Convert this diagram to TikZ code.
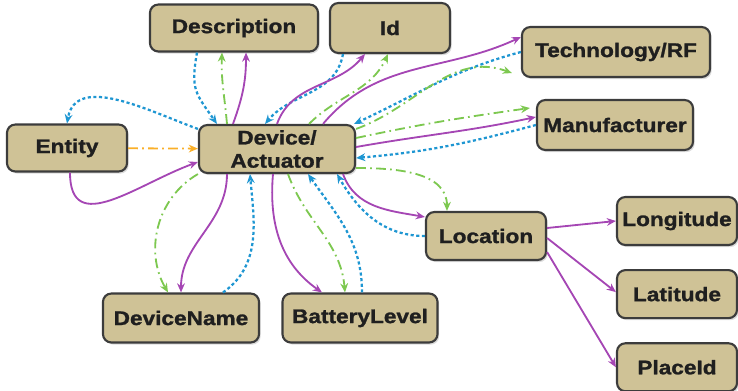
\documentclass[tikz,border=0pt]{standalone}
\usepackage{fontspec}
\newfontfamily\boxfont{Liberation Sans}[FakeStretch=1.15, BoldFeatures={FakeBold=1.3}]
\definecolor{BoxTan}{RGB}{207,194,150}
\definecolor{BoxEdge}{RGB}{60,60,60}
\definecolor{LinkPurple}{RGB}{165,70,180}
\definecolor{LinkBlue}{RGB}{30,150,210}
\definecolor{LinkGreen}{RGB}{125,200,80}
\definecolor{LinkOrange}{RGB}{250,175,40}
\usepackage{tikz}
\usetikzlibrary{arrows.meta, positioning, shadows}
\tikzset{
  box/.style={rectangle, rounded corners=6pt, draw=BoxEdge, line width=1.5pt,
              fill=BoxTan, minimum width=#1, minimum height=1.2cm, inner xsep=2pt,
              font=\boxfont\bfseries\fontsize{14}{16.5}\selectfont,
              text=black!88, align=center,
              drop shadow={shadow xshift=1.2pt, shadow yshift=-1.5pt,
                           opacity=0.35, fill=black!40}},
  box/.default=3cm,
  arr/.style={-{Stealth[length=6.5pt, width=5.5pt]}, line width=1.3pt, color=#1},
  dotarr/.style={arr=#1, line width=1.6pt, dash pattern=on 2.2pt off 1.8pt},
  dotdash/.style={arr=#1, dash pattern=on 7pt off 3pt on 1.2pt off 3pt},
}
\begin{document}
\begin{tikzpicture}[x=0.025cm, y=0.025cm]
  \useasboundingbox (0,0) rectangle (738,390);
  % boxes
  \node[box=4.2cm, minimum height=1.175cm] (desc) at (234,362) {Description};
  \node[box, minimum height=1.25cm] (id) at (390,362) {Id};
  \node[box=4.7cm, minimum height=1.25cm] (tech) at (616,338) {Technology/RF};
  \node[box=3.9cm, minimum height=1.25cm] (manu) at (615,265) {Manufacturer};
  \node[box, minimum height=1.175cm] (ent) at (67,242) {Entity};
  \node[box=3.9cm, inner ysep=1pt] (dev) at (277,241) {Device/\\Actuator};
  \node[box] (loc) at (486,154) {Location};
  \node[box] (lon) at (677,169) {Longitude};
  \node[box, below=0.575cm of lon] (lat) {Latitude};
  \node[box, below=0.575cm of lat] (pid) {PlaceId};
  \node[box=3.9cm, minimum height=1.225cm] (dname) at (181,72) {DeviceName};
  \node[box=3.875cm, minimum height=1.225cm] (batt) at (360,72) {BatteryLevel};

  % entity
  \draw[dotdash=LinkOrange] (ent) -- (dev);
  \draw[arr=LinkPurple] ([xshift=0.075cm]ent.south) to[out=-90, in=200, looseness=1.3] ([yshift=-0.325cm]dev.west);
  \draw[dotarr=LinkBlue] ([yshift=-0.125cm]dev.north west) to[out=160, in=80] (ent.north);

  % description, id
  \draw[dotarr=LinkBlue] ([xshift=-0.925cm]desc.south) to[out=-100, in=125, looseness=1.3] ([xshift=-1.5cm]dev.north);
  \draw[dotdash=LinkGreen] ([xshift=-1.25cm]dev.north) to[out=95, in=-92] ([xshift=-0.3cm]desc.south);
  \draw[arr=LinkPurple] ([xshift=-1.1cm]dev.north) to[out=70, in=-90] ([xshift=0.3cm]desc.south);
  \draw[dotarr=LinkBlue] ([xshift=-1.175cm]id.south) to[out=-100, in=50] ([xshift=-0.3cm]dev.north);
  \draw[arr=LinkPurple] (dev.north) to[out=70, in=-130] ([xshift=-0.625cm]id.south);
  \draw[dotdash=LinkGreen] ([xshift=0.8cm]dev.north) to[out=45, in=-115] ([xshift=-0.05cm]id.south);

  % technology, manufacturer
  \draw[arr=LinkPurple] ([xshift=1.15cm]dev.north) to[out=50, in=205] ([yshift=0.375cm]tech.west);
  \draw[dotarr=LinkBlue] (tech.west) to[out=195, in=25] ([xshift=-0.05cm]dev.north east);
  \draw[dotdash=LinkGreen] ([yshift=-0.125cm]dev.north east) to[out=20, in=160] ([xshift=-0.225cm, yshift=0.125cm]tech.south west);
  \draw[dotdash=LinkGreen] ([yshift=0.275cm]dev.east) to[out=12, in=188] ([xshift=-0.15cm, yshift=0.425cm]manu.west);
  \draw[arr=LinkPurple] ([yshift=0.05cm]dev.east) to[out=10, in=192] ([yshift=0.2cm]manu.west);
  \draw[dotarr=LinkBlue] (manu.west) to[out=195, in=5] ([yshift=-0.225cm]dev.east);

  % location
  \draw[dotdash=LinkGreen] ([yshift=-0.475cm]dev.east) to[out=0, in=90] ([xshift=-0.975cm]loc.north);
  \draw[arr=LinkPurple] ([xshift=1.65cm]dev.south) to[out=-70, in=170] ([yshift=0.475cm]loc.west);
  \draw[dotarr=LinkBlue] (loc.west) to[out=180, in=-60] ([xshift=1.5cm]dev.south);
  \draw[arr=LinkPurple] ([yshift=0.2cm]loc.east) -- (lon.west);
  \draw[arr=LinkPurple] ([yshift=-0.05cm]loc.east) -- ([yshift=0.05cm]lat.west);
  \draw[arr=LinkPurple] ([yshift=-0.4cm]loc.east) -- (pid.west);

  % battery level
  \draw[arr=LinkPurple] ([xshift=-0.1cm]dev.south) to[out=-95, in=145] ([xshift=-0.95cm]batt.north);
  \draw[dotdash=LinkGreen] ([xshift=0.275cm]dev.south) to[out=-70, in=95] ([xshift=-0.375cm]batt.north);
  \draw[dotarr=LinkBlue] ([xshift=0.05cm]batt.north) to[out=90, in=-55] ([xshift=0.775cm]dev.south);

  % device name
  \draw[arr=LinkPurple] ([xshift=-1.25cm]dev.south) to[out=-90, in=90] (dname.north);
  \draw[dotdash=LinkGreen] (dev.south west) to[out=-150, in=120] ([xshift=-0.325cm]dname.north);
  \draw[dotarr=LinkBlue] ([xshift=1.05cm]dname.north) to[out=35, in=-85] ([xshift=-0.675cm]dev.south);
\end{tikzpicture}
\end{document}
